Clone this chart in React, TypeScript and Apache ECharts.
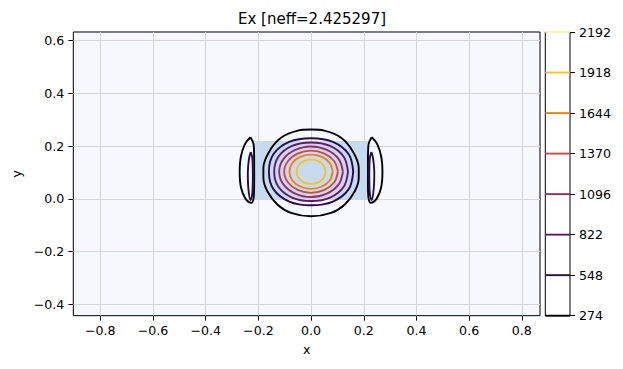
import React, { useEffect, useRef } from "react";
import * as echarts from "echarts";

// ---- data ----
const TITLE = "Ex [neff=2.425297]";
const X_RANGE = [-0.9025, 0.869];
const Y_RANGE = [-0.443, 0.633];
const X_TICKS = [-0.8, -0.6, -0.4, -0.2, 0, 0.2, 0.4, 0.6, 0.8];
const Y_TICKS = [-0.4, -0.2, 0, 0.2, 0.4, 0.6];
const LEVELS = [274, 548, 822, 1096, 1370, 1644, 1918, 2192];
const LEVEL_COLORS = ["#000004", "#260c51", "#65156e", "#9f2a63", "#d44842", "#f57d15", "#fac127", "#fcffa4"];
// waveguide core (x from, x to, top y) — filled down to y=0
const CORE = [[-0.22, 0.22], [0.22, 0.22]];

// contour polylines, [x, y]
const C274_MAIN = [
  [0, 0.263], [0.05, 0.259], [0.114, 0.232], [0.158, 0.181], [0.181, 0.118], [0.181, 0.08], [0.166, 0.029],
  [0.127, -0.022], [0.076, -0.053], [0, -0.066], [-0.076, -0.053], [-0.127, -0.022], [-0.166, 0.029],
  [-0.181, 0.08], [-0.181, 0.118], [-0.158, 0.181], [-0.114, 0.232], [-0.05, 0.259], [0, 0.263],
];
const C274_LEFT = [
  [-0.23, 0.234], [-0.252, 0.206], [-0.267, 0.157], [-0.271, 0.104], [-0.266, 0.043], [-0.249, 0.001],
  [-0.227, -0.015], [-0.218, 0.005], [-0.216, 0.054], [-0.216, 0.149], [-0.218, 0.206], [-0.23, 0.234],
];
const C274_RIGHT = [
  [0.23, 0.234], [0.252, 0.206], [0.267, 0.157], [0.271, 0.104], [0.266, 0.043], [0.249, 0.001],
  [0.227, -0.015], [0.218, 0.005], [0.216, 0.054], [0.216, 0.149], [0.218, 0.206], [0.23, 0.234],
];
const C548_MAIN = [
  [0.16, 0.103], [0.143, 0.169], [0.083, 0.216], [0, 0.23], [-0.083, 0.216], [-0.143, 0.169], [-0.16, 0.103],
  [-0.143, 0.037], [-0.083, -0.01], [0, -0.024], [0.083, -0.01], [0.143, 0.037], [0.16, 0.103],
];
const C548_LEFT = [
  [-0.229, 0.178], [-0.236, 0.15], [-0.24, 0.1], [-0.238, 0.04], [-0.23, -0.005], [-0.223, 0.02],
  [-0.221, 0.09], [-0.223, 0.155], [-0.229, 0.178],
];
const C548_RIGHT = [
  [0.229, 0.178], [0.236, 0.15], [0.24, 0.1], [0.238, 0.04], [0.23, -0.005], [0.223, 0.02],
  [0.221, 0.09], [0.223, 0.155], [0.229, 0.178],
];
const C822 = [
  [0.14, 0.103], [0.124, 0.16], [0.072, 0.201], [0, 0.214], [-0.072, 0.201], [-0.124, 0.16], [-0.14, 0.103],
  [-0.124, 0.046], [-0.072, 0.005], [0, -0.008], [0.072, 0.005], [0.124, 0.046], [0.14, 0.103],
];
const C1096 = [
  [0.121, 0.103], [0.105, 0.151], [0.06, 0.186], [0, 0.199], [-0.06, 0.186], [-0.105, 0.151], [-0.121, 0.103],
  [-0.105, 0.055], [-0.06, 0.02], [0, 0.007], [0.06, 0.02], [0.105, 0.055], [0.121, 0.103],
];
const C1370 = [
  [0.102, 0.103], [0.088, 0.143], [0.051, 0.172], [0, 0.183], [-0.051, 0.172], [-0.088, 0.143], [-0.102, 0.103],
  [-0.088, 0.063], [-0.051, 0.034], [0, 0.023], [0.051, 0.034], [0.088, 0.063], [0.102, 0.103],
];
const C1644 = [
  [0.082, 0.103], [0.071, 0.136], [0.041, 0.159], [0, 0.168], [-0.041, 0.159], [-0.071, 0.136], [-0.082, 0.103],
  [-0.071, 0.07], [-0.041, 0.047], [0, 0.038], [0.041, 0.047], [0.071, 0.07], [0.082, 0.103],
];
const C1918 = [
  [0.055, 0.103], [0.048, 0.126], [0.028, 0.143], [0, 0.149], [-0.028, 0.143], [-0.048, 0.126], [-0.055, 0.103],
  [-0.048, 0.08], [-0.028, 0.063], [0, 0.057], [0.028, 0.063], [0.048, 0.08], [0.055, 0.103],
];
const CONTOURS: [number, number[][]][] = [
  [0, C274_MAIN], [0, C274_LEFT], [0, C274_RIGHT],
  [1, C548_MAIN], [1, C548_LEFT], [1, C548_RIGHT],
  [2, C822], [3, C1096], [4, C1370], [5, C1644], [6, C1918],
];

const FONT = "DejaVu Sans";
const fmt = (v: number) => (v < 0 ? "\u2212" : "") + Math.abs(v).toFixed(1);

export default function App() {
  const ref = useRef<HTMLDivElement>(null);
  useEffect(() => {
    if (!ref.current) return;
    const chart = echarts.init(ref.current, undefined, { renderer: "svg" });
    const labelStyle = { color: "#000", fontFamily: FONT, fontSize: 12.6 };
    const series: any[] = [
      {
        type: "line",
        xAxisIndex: 0,
        yAxisIndex: 0,
        data: CORE,
        symbol: "none",
        lineStyle: { width: 0 },
        areaStyle: { color: "#c6dbef", opacity: 1 },
        silent: true,
        z: 1,
      },
    ];
    CONTOURS.forEach(([li, pts]) => {
      series.push({
        type: "line",
        xAxisIndex: 0,
        yAxisIndex: 0,
        data: pts,
        symbol: "none",
        smooth: 0.35,
        lineStyle: { color: LEVEL_COLORS[li], width: 1.9 },
        silent: true,
        z: 3,
      });
    });
    LEVELS.forEach((lv, i) => {
      series.push({
        type: "line",
        xAxisIndex: 1,
        yAxisIndex: 1,
        data: [[0, lv], [1, lv]],
        symbol: "none",
        lineStyle: { color: LEVEL_COLORS[i], width: 1.9 },
        silent: true,
        clip: false,
        z: 3,
      });
    });
    chart.setOption({
      animation: false,
      backgroundColor: "#fff",
      title: {
        text: TITLE,
        left: 307,
        textAlign: "center",
        top: 6,
        textStyle: { fontFamily: FONT, fontSize: 15, fontWeight: "normal", color: "#000" },
      },
      grid: [
        { left: 73.3, right: 83, top: 32, bottom: 53.3, show: true, backgroundColor: "#f5f9fd", borderColor: "#000", borderWidth: 1 },
        { left: 545.3, right: 53, top: 32, bottom: 53.3, show: true, backgroundColor: "#fff", borderColor: "#000", borderWidth: 1 },
      ],
      xAxis: [
        {
          type: "value",
          gridIndex: 0,
          min: X_RANGE[0],
          max: X_RANGE[1],
          name: "x",
          nameLocation: "middle",
          nameGap: 27,
          nameTextStyle: labelStyle,
          axisLine: { show: false, onZero: false },
          axisTick: { show: true, length: 4.9, customValues: X_TICKS, lineStyle: { color: "#000" } },
          axisLabel: { ...labelStyle, margin: 8, customValues: X_TICKS, formatter: fmt },
          splitLine: { show: true, lineStyle: { color: "#d6d6d6", width: 1 } },
        },
        {
          type: "value",
          gridIndex: 1,
          min: 0,
          max: 1,
          show: false,
        },
      ],
      yAxis: [
        {
          type: "value",
          gridIndex: 0,
          min: Y_RANGE[0],
          max: Y_RANGE[1],
          name: "y",
          nameLocation: "middle",
          nameGap: 50,
          nameTextStyle: labelStyle,
          axisLine: { show: false, onZero: false },
          axisTick: { show: true, length: 4.9, customValues: Y_TICKS, lineStyle: { color: "#000" } },
          axisLabel: { ...labelStyle, margin: 9, customValues: Y_TICKS, formatter: fmt },
          splitLine: { show: true, lineStyle: { color: "#d6d6d6", width: 1 } },
        },
        {
          type: "value",
          gridIndex: 1,
          position: "right",
          min: 274,
          max: 2192,
          interval: 274,
          axisLine: { show: false, onZero: false },
          axisTick: { show: true, length: 4.9, lineStyle: { color: "#000" } },
          axisLabel: { ...labelStyle, margin: 9, formatter: (v: number) => String(v) },
          splitLine: { show: false },
        },
      ],
      series,
    });
    return () => chart.dispose();
  }, []);
  return <div ref={ref} style={{ position: "fixed", left: 0, top: 0, width: 623, height: 369 }} />;
}
